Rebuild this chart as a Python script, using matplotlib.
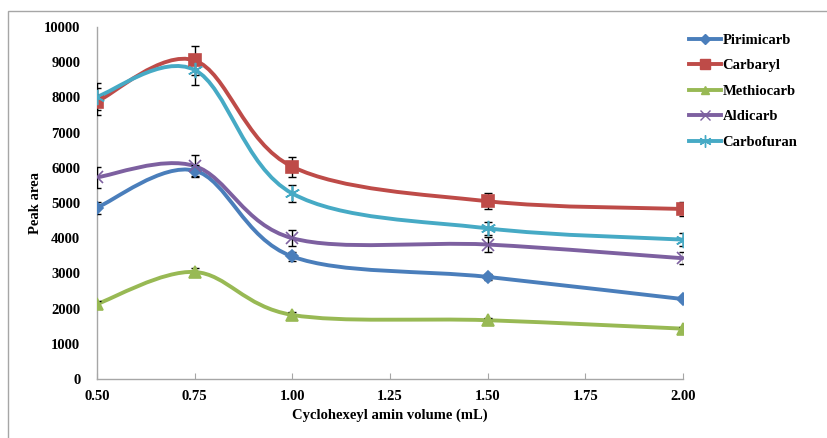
import matplotlib.pyplot as plt
from matplotlib.path import Path
from matplotlib.patches import PathPatch, Rectangle
from matplotlib.lines import Line2D

plt.rcParams['font.family'] = ['Liberation Serif', 'DejaVu Serif']
plt.rcParams['font.weight'] = 'bold'

# Data
volume = [0.50, 0.75, 1.00, 1.50, 2.00]

pirimicarb = [4870, 5920, 3480, 2900, 2270]
carbaryl = [7880, 9050, 6030, 5050, 4830]
methiocarb = [2130, 3040, 1820, 1670, 1430]
aldicarb = [5730, 6050, 4000, 3820, 3430]
carbofuran = [8020, 8780, 5270, 4280, 3960]

pirimicarb_err = [170, 150, 120, 80, 60]
carbaryl_err = [380, 420, 280, 230, 200]
methiocarb_err = [80, 110, 70, 60, 50]
aldicarb_err = [300, 300, 230, 200, 170]
carbofuran_err = [380, 430, 250, 180, 190]

names = ['Pirimicarb', 'Carbaryl', 'Methiocarb', 'Aldicarb', 'Carbofuran']
series = [pirimicarb, carbaryl, methiocarb, aldicarb, carbofuran]
errors = [pirimicarb_err, carbaryl_err, methiocarb_err, aldicarb_err, carbofuran_err]
line_colors = ['#4A7EBB', '#BE4B48', '#98B954', '#7D60A0', '#46AAC5']
markers = ['D', 's', '^', 'x', (6, 2, 0)]
marker_sizes = [6, 9, 8, 9, 11]


def smooth_path(xs, ys):
    # Excel-like smoothed line: cubic Bezier segments through the points
    verts = [(xs[0], ys[0])]
    codes = [Path.MOVETO]
    n = len(xs)
    for i in range(n - 1):
        x0, y0 = (xs[i - 1], ys[i - 1]) if i > 0 else (xs[i], ys[i])
        x3, y3 = (xs[i + 2], ys[i + 2]) if i + 2 < n else (xs[i + 1], ys[i + 1])
        c1 = (xs[i] + (xs[i + 1] - x0) / 6, ys[i] + (ys[i + 1] - y0) / 6)
        c2 = (xs[i + 1] - (x3 - xs[i]) / 6, ys[i + 1] - (y3 - ys[i]) / 6)
        verts += [c1, c2, (xs[i + 1], ys[i + 1])]
        codes += [Path.CURVE4] * 3
    return Path(verts, codes)


fig = plt.figure(figsize=(8.28, 4.38), dpi=100)
ax = fig.add_axes([0.1171, 0.1347, 0.7078, 0.8037])

# outer chart border
fig.patches.append(Rectangle((8 / 828, -0.1), 1.1, 0.1 + (438 - 11) / 438,
                             transform=fig.transFigure, fill=False,
                             edgecolor='#a6a6a6', linewidth=1.0))

handles = []
for name, ys, err, c, m, ms in zip(names, series, errors, line_colors, markers, marker_sizes):
    ax.add_patch(PathPatch(smooth_path(volume, ys), facecolor='none',
                           edgecolor=c, linewidth=2.8, zorder=2))
    ax.errorbar(volume, ys, yerr=err, fmt='none', ecolor='black',
                elinewidth=1.0, capsize=3, capthick=1.0, zorder=3)
    ax.plot(volume, ys, linestyle='none', marker=m, markersize=ms,
            color=c, markeredgecolor=c, markeredgewidth=1.2, zorder=4)
    handles.append(Line2D([], [], color=c, linewidth=2.8, marker=m,
                          markersize=ms * 0.8, markeredgecolor=c,
                          markeredgewidth=1.0))

ax.set_xlim(0.5, 2.0)
ax.set_ylim(0, 10000)
ax.set_xticks([0.5, 0.75, 1.0, 1.25, 1.5, 1.75, 2.0])
ax.set_xticklabels(['0.50', '0.75', '1.00', '1.25', '1.50', '1.75', '2.00'])
ax.set_yticks(range(0, 10001, 1000))

for s in ['top', 'right']:
    ax.spines[s].set_visible(False)
for s in ['left', 'bottom']:
    ax.spines[s].set_color('#a6a6a6')
    ax.spines[s].set_linewidth(1.0)
ax.tick_params(axis='x', direction='in', length=4, color='#a6a6a6', labelsize=10.5, pad=8)
ax.tick_params(axis='y', length=0, labelsize=10.5, pad=12)
for lab in ax.get_xticklabels() + ax.get_yticklabels():
    lab.set_fontweight('bold')

ax.set_xlabel('Cyclohexeyl amin volume (mL)', fontsize=10.5, fontweight='bold', labelpad=4)
ax.set_ylabel('Peak area', fontsize=10.5, fontweight='bold')
ax.yaxis.set_label_coords(-0.094, 0.5)

leg = fig.legend(handles, names, loc='upper left', bbox_to_anchor=(0.825, 0.937),
                 frameon=False, fontsize=10.5, handlelength=2.2, handletextpad=0.1,
                 labelspacing=0.85, borderaxespad=0)
for t in leg.get_texts():
    t.set_fontweight('bold')

fig.savefig('out.png', dpi=100)
